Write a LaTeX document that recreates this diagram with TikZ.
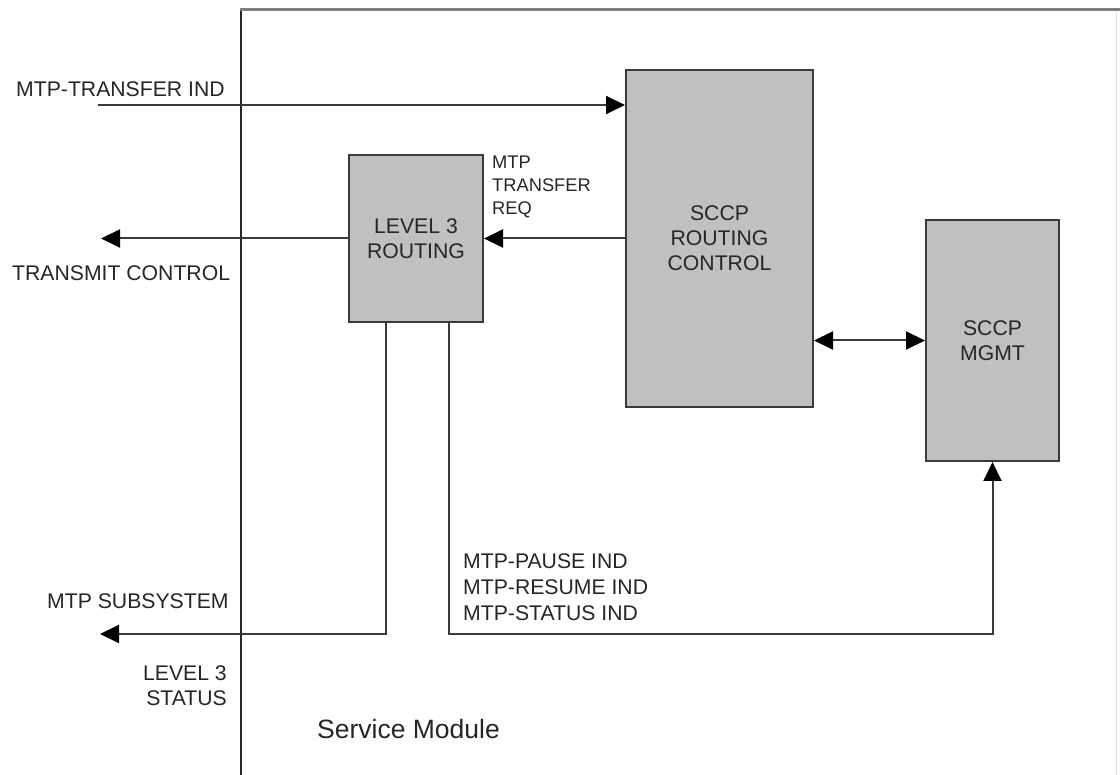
\documentclass[tikz,border=0pt]{standalone}
\usepackage{fontspec}
\setmainfont{Liberation Sans}
\usetikzlibrary{arrows.meta}
\definecolor{boxfill}{HTML}{C0C0C0}
\definecolor{edgecol}{HTML}{3A3A3A}
\definecolor{txt}{HTML}{262626}
\begin{document}
\begin{tikzpicture}[x=1pt,y=-1pt,
  box/.style={draw=edgecol, line width=2pt, fill=boxfill, text=txt, align=center, inner sep=0pt,
              font=\fontsize{21.2}{25}\selectfont},
  lbl/.style={text=txt, inner sep=0pt, font=\fontsize{21.2}{25}\selectfont},
  conn/.style={draw=edgecol, line width=2pt},
  tip/.tip={Triangle[length=19pt,width=18pt,color=black]},
  arr/.style={conn, -tip},
  darr/.style={conn, tip-tip}]
\useasboundingbox (0,0) rectangle (1120,775);
\fill[white] (0,0) rectangle (1120,775);
% frame
\draw[line width=1.5pt, black!85] (241,775) -- (241,10);
\draw[line width=3pt, black!50] (240,10) -- (1120,10);
\draw[line width=1pt, black!12] (1116,12) -- (1116,775);
% boxes
\node[box, minimum width=187pt, minimum height=337pt] (rc) at (719.5,238.5) {SCCP\\ROUTING\\CONTROL};
\node[box, minimum width=134pt, minimum height=167pt] (l3) at (416,238.5) {LEVEL 3\\ROUTING};
\node[box, minimum width=133pt, minimum height=241pt] (mg) at (992.5,340.5) {SCCP\\MGMT};
% connectors
\coordinate (tin) at (98,105);
\draw[arr] (tin) -- (tin -| rc.west);
\coordinate (tc) at (101,238.5);
\draw[arr] (l3.west) -- (tc);
\draw[arr] (rc.west |- l3.east) -- (l3.east);
\draw[darr] (rc.east |- mg.west) -- (mg.west);
\coordinate (ls) at (100,634);
\draw[arr] ([xshift=-30pt]l3.south) |- (ls);
\draw[arr] ([xshift=33pt]l3.south) |- (mg.south |- ls) -- (mg.south);
% labels
\node[lbl, anchor=west] (t1) at (16,89) {MTP-TRANSFER IND};
\node[lbl, anchor=west] (t2) at (12,273) {TRANSMIT CONTROL};
\node[lbl, anchor=west, align=left, font=\fontsize{18.3}{23}\selectfont] (t3) at (492,187) {MTP\\TRANSFER\\REQ};
\node[lbl, anchor=west] (t4) at (47,601) {MTP SUBSYSTEM};
\node[lbl, anchor=east, align=right] (t5) at (227,685.5) {LEVEL 3\\STATUS};
\node[lbl, anchor=west, align=left, font=\fontsize{21.2}{26}\selectfont] (t6) at (463,587) {MTP-PAUSE IND\\MTP-RESUME IND\\MTP-STATUS IND};
\node[lbl, anchor=west, font=\fontsize{26.5}{30}\selectfont] (t7) at (317,729) {Service Module};
\end{tikzpicture}
\end{document}
